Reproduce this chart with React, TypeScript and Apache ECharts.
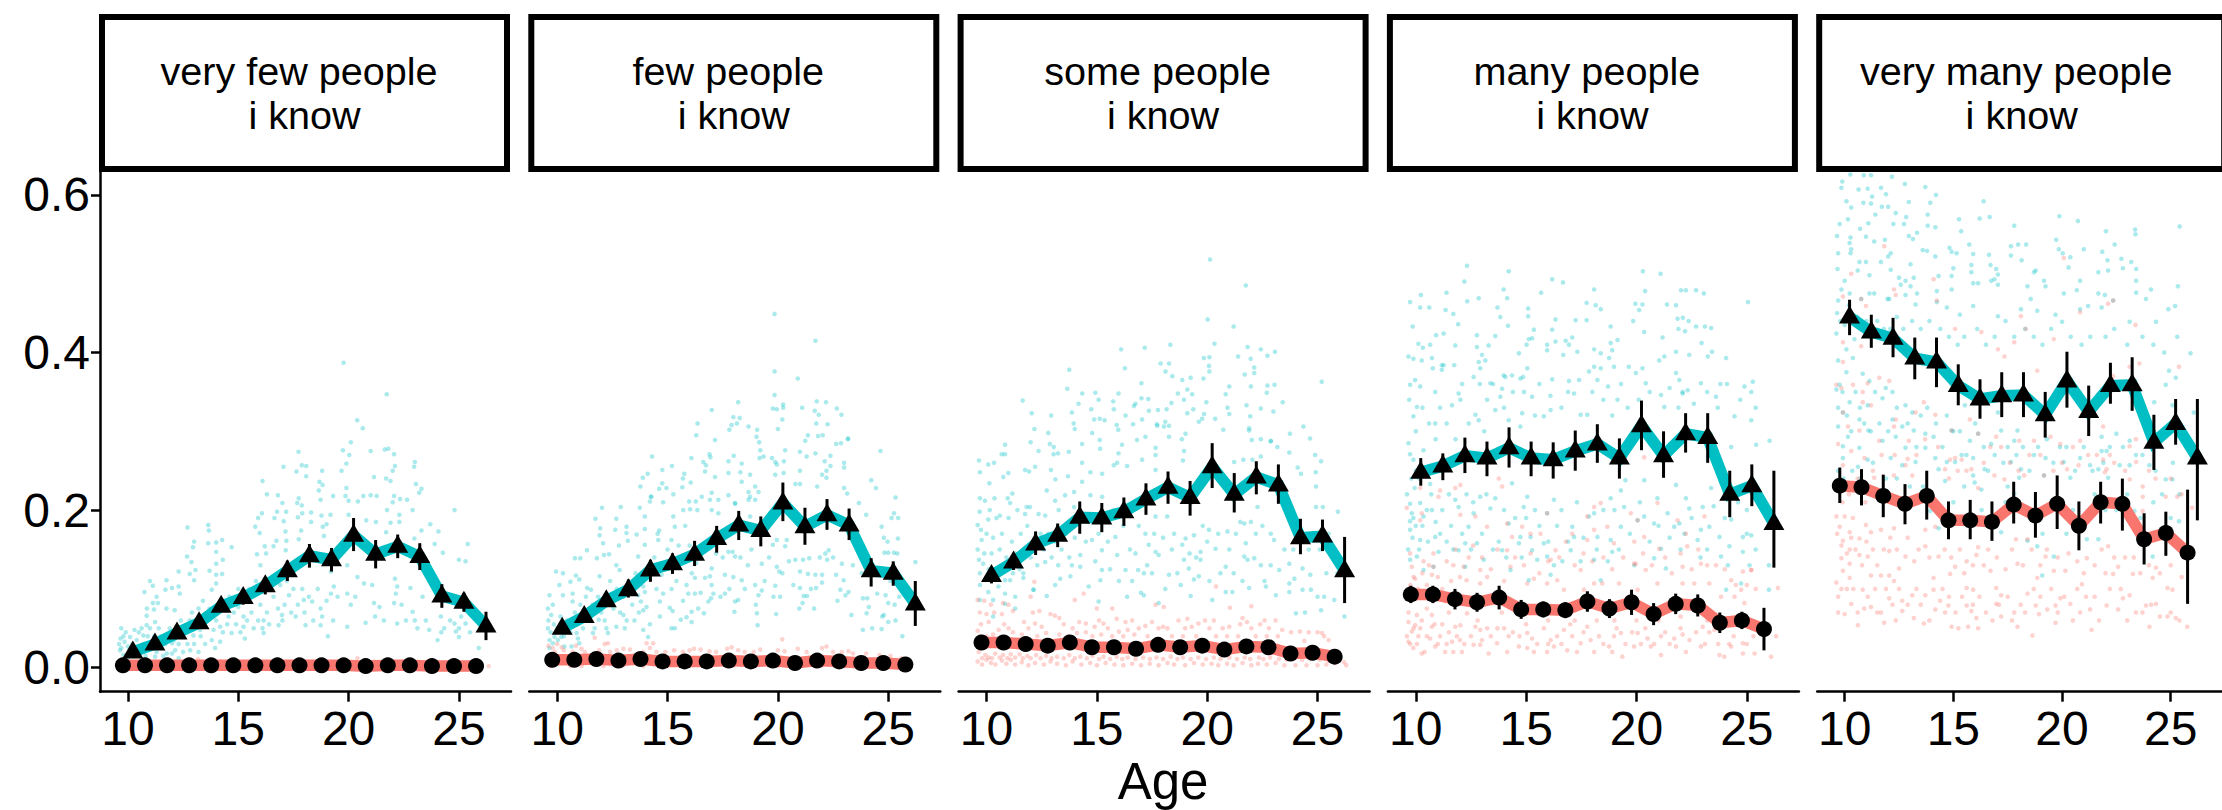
import React, { useEffect, useRef } from "react";
import * as echarts from "echarts";

const ages = [10, 11, 12, 13, 14, 15, 16, 17, 18, 19, 20, 21, 22, 23, 24, 25, 26];
const panelLabels = ["very few people", "few people", "some people", "many people", "very many people"];
const xTicks = [10, 15, 20, 25];
const yTicks = [0, 0.2, 0.4, 0.6];

const tealMean1 = [.020, .030, .044, .057, .078, .089, .104, .123, .142, .137, .168, .144, .154, .141, .091, .083, .053];
const tealHi1 = [.023, .034, .048, .062, .084, .096, .115, .136, .157, .152, .190, .162, .169, .158, .106, .095, .071];
const tealLo1 = [.017, .026, .040, .052, .072, .080, .093, .110, .127, .122, .148, .126, .139, .124, .076, .071, .035];
const salmonMean1 = [.003, .003, .003, .003, .003, .003, .003, .003, .003, .003, .003, .002, .003, .003, .002, .002, .002];
const salmonHi1 = [.004, .004, .004, .004, .004, .004, .004, .004, .004, .004, .004, .003, .004, .004, .003, .003, .003];
const salmonLo1 = [.002, .002, .002, .002, .002, .002, .002, .002, .002, .002, .002, .001, .002, .002, .001, .001, .001];

const tealMean2 = [.050, .065, .085, .099, .124, .132, .144, .164, .181, .174, .209, .179, .194, .181, .123, .120, .081];
const tealHi2 = [.054, .070, .091, .112, .137, .145, .161, .180, .199, .192, .235, .203, .214, .202, .139, .135, .110];
const tealLo2 = [.046, .060, .079, .089, .109, .119, .129, .146, .162, .154, .186, .156, .175, .162, .103, .104, .053];
const salmonMean2 = [.010, .010, .011, .009, .011, .008, .008, .008, .009, .008, .009, .006, .009, .008, .006, .006, .004];
const salmonHi2 = [.012, .012, .013, .011, .013, .010, .010, .010, .011, .010, .011, .008, .011, .010, .008, .008, .006];
const salmonLo2 = [.008, .008, .009, .007, .009, .006, .006, .006, .007, .006, .007, .004, .007, .006, .004, .004, .002];

const tealMean3 = [.117, .134, .157, .168, .191, .190, .198, .214, .229, .216, .255, .220, .242, .232, .165, .167, .123];
const tealHi3 = [.126, .145, .173, .183, .211, .209, .216, .234, .249, .237, .285, .247, .262, .258, .189, .188, .166];
const tealLo3 = [.107, .124, .143, .153, .170, .172, .180, .194, .208, .193, .228, .197, .220, .208, .144, .148, .082];
const salmonMean3 = [.032, .032, .030, .028, .032, .026, .026, .024, .029, .026, .028, .023, .027, .026, .018, .019, .014];
const salmonHi3 = [.036, .036, .034, .032, .036, .030, .030, .028, .033, .030, .032, .027, .031, .030, .022, .023, .018];
const salmonLo3 = [.028, .028, .026, .024, .028, .022, .022, .020, .025, .022, .024, .019, .023, .022, .014, .015, .010];

const tealMean4 = [.248, .256, .269, .266, .279, .266, .264, .275, .284, .266, .307, .269, .297, .292, .220, .231, .183];
const tealHi4 = [.266, .272, .292, .287, .305, .287, .286, .301, .309, .291, .339, .300, .323, .323, .250, .258, .250];
const tealLo4 = [.231, .238, .247, .243, .254, .243, .240, .250, .260, .240, .276, .241, .273, .260, .191, .205, .127];
const salmonMean4 = [.093, .093, .087, .083, .089, .074, .074, .073, .084, .075, .083, .068, .081, .079, .057, .060, .049];
const salmonHi4 = [.104, .104, .100, .095, .104, .086, .084, .083, .097, .087, .099, .082, .094, .093, .070, .071, .076];
const salmonLo4 = [.082, .082, .074, .071, .074, .062, .064, .063, .071, .063, .067, .054, .068, .065, .044, .049, .022];

const tealMean5 = [.445, .426, .418, .393, .388, .358, .341, .345, .346, .321, .364, .325, .358, .359, .286, .310, .266];
const tealHi5 = [.467, .448, .444, .419, .419, .385, .366, .375, .375, .350, .401, .358, .387, .394, .321, .341, .341];
const tealLo5 = [.422, .406, .394, .366, .356, .333, .316, .318, .318, .292, .330, .294, .335, .326, .251, .283, .187];
const salmonMean5 = [.231, .229, .218, .208, .218, .187, .187, .185, .207, .193, .208, .180, .210, .208, .163, .171, .146];
const salmonHi5 = [.254, .252, .245, .233, .250, .211, .213, .211, .236, .223, .244, .211, .236, .240, .196, .198, .226];
const salmonLo5 = [.209, .206, .191, .182, .188, .163, .163, .161, .183, .165, .176, .149, .183, .174, .131, .142, .081];

// individual participants: flat age, value pairs
const tealDots1 = [19.77,.387,21.73,.347,20.39,.314,20.64,.304,20.1,.286,19.74,.276,20.03,.27,21,.275,21.64,.277,21.8,.278,22.06,.271,17.73,.274,17.05,.255,17.88,.257,18.08,.256,18.08,.243,17.64,.249,18.8,.25,19.68,.25,19.9,.259,22.1,.256,22,.25,22.97,.255,23,.261,21.15,.242,21.7,.24,21.9,.237,23.05,.233,23.3,.227,23.2,.222,18.68,.236,18.82,.232,16.1,.237,16.3,.22,16.8,.219,18.65,.225,19.9,.228,19.3,.218,19.86,.218,20.67,.218,21,.219,21.27,.218,22.06,.218,22.33,.214,22.65,.213,17.74,.215,17,.209,17.67,.209,17.88,.206,18.73,.213,20,.212,20.42,.211,22,.21,21.74,.2,22.9,.2,24.8,.2,17.17,.198,18.3,.197,19.18,.194,17.9,.196,20,.194,22.3,.194,16.07,.196,16.76,.198,16.64,.19,17.06,.186,17.7,.191,18.77,.193,20.8,.187,21.24,.185,21.9,.184,23.7,.182,22.3,.185,15.9,.19,18.3,.185,19,.182,18.83,.179,12.7,.178,13.64,.181,13.67,.174,15.77,.179,17.14,.173,17.85,.174,18.88,.167,15.97,.171,21.7,.172,23.3,.174,24.07,.173,13,.16,13.64,.158,14,.159,14.27,.162,14.7,.153,12.95,.153,16.73,.161,17.18,.161,17.74,.163,16.6,.154,16.2,.154,25.4,.157,23.9,.157,22.98,.164,17.15,.149,16.26,.145,14,.147,15.85,.144,24.27,.146,25,.137,25.3,.135,12.68,.141,12.88,.134,14.3,.137,14,.132,16,.13,12.3,.122,12.8,.119,13.06,.124,13.7,.123,14.27,.119,14,.118,11,.11,11.75,.111,11.13,.104,11.7,.099,12,.101,12.3,.103,13,.111,14,.107,10.75,.096,11.3,.09,12.35,.094,13.8,.099,10.86,.075,11.13,.082,11.36,.082,10.85,.066,11.18,.074,11.75,.075,12.12,.073,19.94,.13,19.2,.122,17.3,.092,19.33,.103,20.4,.115,20.7,.107,21.07,.105,22.1,.113,22.2,.103,22.8,.101,23.35,.09,22.06,.082,22.14,.094,19.94,.094,17.97,.086,18.35,.084,18.73,.075,19.2,.094,21.15,.082,21.4,.077,22.9,.071,24.18,.065,25.3,.056,24.8,.056,24.03,.035,25,.039,25.9,.025,24.86,.046,24.33,.05,23.65,.048,23.12,.05,22.2,.056,20.77,.057,19.94,.052,18.73,.054,19.06,.04,18.05,.054,17.6,.065,16.98,.067,16.83,.054,16.15,.06,16.15,.044,15.3,.037,15.24,.052,15.24,.065,14.7,.044,14.18,.052,13.88,.048,13.95,.025,14.18,.033,14.56,.065,15,.077,13.27,.048,12.97,.041,12.82,.022,13.2,.02,12.14,.022,11.76,.018,12.3,.012,11.23,.014,11.53,.027,10.62,.05,10.85,.054,11.23,.058,12,.031,9.7,.05,9.67,.037,9.85,.033,9.64,.022,10.1,.039,10.3,.048,9.8,.016,10,.027,10.7,.041,10.85,.027];
const tealDots1b = [9.6,.03,9.7,.025,9.8,.04,9.9,.045,10,.012,10.1,.02,10.2,.03,10.4,.035,10.5,.045,10.7,.03,10.8,.015,10.9,.04,11,.05,11.1,.03,11.2,.04,11.3,.02,11.4,.05,11.5,.04,11.6,.015,11.7,.03,11.8,.04,11.9,.05,12,.018,12.1,.035,12.2,.045,12.3,.03,12.4,.06,12.5,.02,12.6,.05,12.7,.03,12.8,.06,12.9,.07,13,.03,13.1,.055,13.2,.075,13.3,.04,13.4,.085,13.5,.03,13.6,.06,13.7,.075,13.8,.035,14,.06,14.1,.08,14.3,.045,14.4,.085,14.5,.055,14.6,.09,14.8,.07,14.9,.055,15,.1,15.1,.045,15.3,.085,15.4,.06,15.5,.1,15.6,.07,15.7,.05,15.8,.11,15.9,.06,16,.08,16.1,.05,16.2,.1,16.3,.07,16.4,.055,16.6,.09,16.8,.075,16.9,.105,17,.06,17.1,.08,17.2,.11,17.4,.07,17.5,.1,17.7,.08,17.9,.1,18,.07,18.2,.09,18.4,.06,18.6,.1,18.8,.065,19,.085,19.3,.06,19.5,.09,20.1,.08,20.3,.09,21.2,.065,21.6,.06,22.4,.08,22.6,.06,23,.06,23.5,.06,24.2,.045,24.6,.06,25,.05,25.1,.065,25.5,.045];
const salmonDots1 = [13.18,.011,20.4,.012,21.15,.008,26.35,.002,14.2,.008,11.6,.006,17.5,.006,23,.006];

const tealDots2 = [19.85,.449,21.7,.415,19.85,.376,20.9,.367,19.85,.346,18.2,.337,17,.327,19.77,.329,19.95,.328,20.24,.334,20.24,.33,21.1,.33,21.76,.338,22.18,.337,21.67,.326,21.85,.321,22.67,.329,22.88,.321,17.98,.318,18.27,.317,18.14,.31,17.8,.302,17.9,.308,16.36,.31,16.3,.295,17.15,.289,18.67,.306,19.06,.302,19.03,.293,19.15,.286,20.2,.315,20,.303,21.74,.31,22.25,.309,21.36,.295,21.24,.288,21.82,.294,22.03,.295,22.64,.284,22.86,.285,23.17,.29,23.18,.291,24.65,.275,14.3,.268,16.08,.266,16.9,.271,16.94,.267,18,.269,17.76,.262,18.36,.259,19.2,.276,19.17,.266,19.35,.268,19.73,.266,19.88,.261,19.95,.258,20.33,.276,20.27,.262,21,.274,21.3,.268,21.7,.272,22.38,.269,22.12,.262,23,.26,23,.254,15.2,.256,14.76,.251,14.1,.246,13.88,.241,15.76,.246,15.7,.24,16.62,.261,16.74,.257,16.7,.249,17.15,.242,17.76,.247,18.3,.248,18.74,.245,19.88,.245,20.26,.247,21,.25,22,.245,22.2,.25,22.2,.241,22.38,.256,24.23,.238,24.44,.228,13.77,.23,14.62,.227,14.95,.228,14.76,.234,15.26,.22,14.27,.217,14.2,.211,14.8,.21,16.05,.235,15.67,.229,15.98,.211,16.28,.211,17,.222,17.76,.219,16.92,.213,16.55,.217,17.3,.213,18.36,.236,18.67,.223,18.97,.23,19.12,.223,18.74,.217,18.06,.209,20.79,.233,21,.233,21.78,.23,23,.228,23.14,.221,23.67,.209,25.33,.216,12.03,.203,12.88,.204,13.74,.203,14.24,.217,11.73,.189,11.95,.177,11.92,.168,12.08,.158,12.63,.175,13.14,.179,12.68,.189,13.14,.171,13.2,.161,12.8,.155,12.35,.144,12.12,.143,11.35,.149,11.8,.139,11.05,.139,10.8,.139,13.97,.192,13.97,.176,13.6,.169,14.62,.174,15.26,.192,15.33,.179,15.8,.18,15.18,.162,14.58,.162,13.97,.156,13.67,.141,15.71,.2,16.02,.201,16.35,.2,17,.2,17.3,.196,18.06,.208,18.67,.213,18.97,.213,18.74,.192,24,.194,24.7,.179,25.15,.19,25.45,.19,25.26,.196,25.44,.164,24.8,.165,24.97,.16,19.95,.162,20.4,.162,20.33,.154,19.77,.156,17.76,.147,17.95,.147,18.06,.141,17.6,.118,17.98,.115,18.36,.111,18.64,.13,19.27,.132,18.97,.105,19.27,.098,19.12,.092,18.06,.084,18.2,.086,18.03,.071,19.05,.069,19.88,.104,19.95,.128,20.2,.12,20.06,.122,19.8,.09,19.92,.068,19.08,.054,20.79,.137,21.14,.137,21.42,.139,21,.122,21.36,.119,21.7,.118,22.23,.137,22.15,.145,22.3,.149,22,.118,22,.108,21,.101,21.17,.091,21.32,.091,21.12,.082,20.97,.075,21.64,.075,21.73,.101,22.9,.132,23.4,.13,22.64,.118,22.98,.111,23.2,.096,23.06,.092,22.83,.099,23.33,.067,24.83,.146,25,.146,25.26,.146,25.41,.145,24.05,.088,23.85,.088,24.12,.077,24.02,.069,24.5,.094,24.88,.092,25,.082,25.29,.08,24.73,.065,25,.058,24.8,.067,25.33,.06,23.85,.048,24.27,.05,24.7,.049,25.64,.04,26.23,.134,14.73,.13,15,.135,14.73,.118,15.18,.1,14.8,.094,14.65,.084,15.1,.076,15.23,.072,14.65,.065,15.33,.05,15.18,.05,15.6,.061,16.09,.058,15.86,.064,16.09,.071,16.39,.075,16.24,.094,15.94,.094,15.86,.105,16.24,.114,16.3,.133,16.92,.116,17,.126,16.7,.114,16.85,.084,17.08,.094,16.97,.088,16.65,.069,17.6,.094,13.9,.103,13.97,.096,13.67,.092,13.9,.073,13.5,.06,13,.067,12.68,.052,13.06,.05,14.2,.055,13.9,.048,14.12,.039,13.79,.084,14.05,.077,12.68,.13,12.83,.124,11.92,.116,11.53,.099,11,.112,10.85,.117,10.6,.109,10.7,.094,10.26,.12,9.95,.122,10.1,.105,9.65,.092,9.8,.08,9.58,.075,10.26,.092,9.73,.067,9.58,.05,10.7,.084,11.36,.101,11.77,.073,11.88,.061,12.23,.05,11.62,.044,12.3,.044,10.95,.061,10.88,.044,10.65,.054,11.17,.05,9.65,.035,9.8,.031,10.03,.035,10.33,.027,10.18,.039,9.65,.025,10.94,.037,11,.031,10.65,.027,9.88,.039];
const tealDots2b = [9.6,.06,9.7,.045,9.85,.055,10,.05,10.15,.065,10.3,.04,10.45,.06,10.6,.045,10.8,.07,10.9,.055,11.05,.08,11.2,.065,11.3,.09,11.45,.06,11.6,.08,11.7,.05,11.85,.09,12,.07,12.15,.06,12.3,.085,12.4,.11,12.55,.075,12.7,.1,12.85,.07,13,.09,13.15,.06,13.3,.1,13.4,.08,13.55,.12,13.7,.07,14.4,.14,14.5,.1,14.55,.17,15,.15,15.4,.11,15.5,.155,15.7,.085,16,.155,16.1,.12,16.5,.095,16.6,.155,17,.105,17.2,.145,17.4,.09,17.5,.14,17.8,.1,18.3,.14,18.5,.1,18.8,.15,19,.08,19.4,.11,19.6,.14,20.1,.09,20.5,.135,20.7,.105,21.5,.1,21.9,.14,22.5,.14,22.7,.085,23.6,.15,23.8,.12,24.3,.13,24.6,.12,25.1,.11,25.5,.09];
const salmonDots2 = [20.2,.036,12.3,.031,12.15,.03,11.7,.038,14.05,.031,14.35,.031,9.6,.028,9.8,.025,10,.03,10.2,.026,9.9,.02,10.3,.022,10.85,.028,11.1,.024,11.25,.02,10.7,.02,11.9,.022,12.4,.02,12.7,.022,13,.024,13.3,.023,13.9,.02,14.2,.025,14.5,.02,14.9,.02,15.3,.022,15.7,.02,16,.022,16.2,.024,16.5,.023,16.9,.021,17.2,.02,17.7,.024,17.9,.026,18.2,.022,18.5,.02,18.9,.02,19.2,.023,20,.022,20.3,.021,20.9,.024,21.3,.02,22,.025,22.2,.027,22.5,.02,22.9,.02,23.2,.021,23.4,.018,24,.018,24.6,.016,25.1,.015,25.6,.012,9.7,.002,10.6,.002,11.1,.002,12.1,.002,13,.003,13.9,.002,15,.003,16,.003,17,.003,18,.003,19,.003,20,.002,21,.003,22,.003,23,.002,24,.002,25,.002,25.6,.002];

const tealDots3 = [20.13,.518,21.75,.485,20.02,.442,21.2,.433,20.33,.411,16.1,.404,17.17,.406,18.33,.41,21.83,.407,22.43,.404,22.73,.396,23.07,.401,19.85,.393,20.1,.394,21.4,.395,21.97,.392,17.89,.386,18.27,.386,16.27,.38,13.75,.378,20.08,.383,20.1,.376,18.11,.376,18.42,.37,17.02,.361,18.87,.365,19.25,.368,19.83,.367,21.7,.372,22.13,.381,22.13,.374,21.98,.357,21,.357,23.05,.359,22.73,.358,22.7,.349,25.19,.363,13.66,.354,14.34,.348,14.93,.349,15.98,.348,18.67,.348,19.1,.353,19.32,.347,20.84,.347,11.64,.339,14.17,.335,15.08,.34,15.74,.338,16.75,.335,17.02,.342,17.33,.341,18.38,.336,18.95,.34,19.96,.337,21.78,.333,22.43,.329,23.42,.337,12.05,.323,12.93,.32,13.87,.324,14.75,.328,15.77,.328,16.3,.32,16.68,.332,17.36,.326,17.77,.327,18.16,.328,19.1,.323,19.37,.328,19.86,.322,20.36,.316,20.92,.33,21,.322,21.95,.319,23,.325,12.17,.303,13.95,.31,14,.303,12.8,.298,14.88,.315,15.13,.316,15.35,.314,15.9,.308,15.97,.302,16.64,.309,17.05,.315,17.72,.309,18.1,.312,17.74,.307,18.04,.306,18.27,.307,19.62,.312,19.77,.316,20.73,.302,21.9,.304,21.9,.301,22.02,.289,22.43,.29,22.88,.288,23.75,.297,24.36,.306,24.66,.291,12,.286,12.87,.284,13.05,.28,10.84,.283,10.69,.271,10.84,.271,12.36,.275,13.04,.271,13.24,.272,13.73,.274,14.33,.284,14.79,.298,15.13,.289,15.15,.278,16.14,.283,15.98,.272,16.82,.289,17.2,.293,17.66,.279,18.27,.293,19.02,.297,18.85,.29,18.95,.275,18.9,.263,9.66,.263,10.34,.26,10.08,.258,9.7,.248,10.99,.247,10.76,.242,10.13,.234,11.75,.251,11.93,.249,12.2,.255,12.92,.251,13.12,.239,13.69,.243,14.33,.26,14.71,.248,15.24,.246,15.77,.257,15.92,.26,16.37,.256,17.05,.264,17.66,.27,17.66,.251,21.64,.264,21.22,.261,22.05,.264,22.43,.268,22.88,.287,23.18,.28,24.89,.27,25.16,.262,24.92,.248,24.1,.254,24.25,.246,23.72,.273,9.7,.215,9.93,.212,10.36,.215,9.69,.198,10.08,.188,9.6,.181,9.78,.162,10.61,.193,10.96,.215,11.17,.221,11.07,.209,11.82,.204,11.97,.204,11.75,.195,12.36,.195,12.66,.193,13.11,.212,12.73,.225,13.27,.2,13.56,.219,13.97,.223,13.97,.204,14.2,.187,14.71,.219,15.24,.217,14.33,.236,15.08,.17,14.78,.162,15.23,.149,14.93,.135,14.25,.143,14.25,.128,13.87,.13,13.8,.116,13.34,.113,13.11,.105,12.73,.091,12.13,.099,15.84,.166,15.92,.143,16.3,.124,15.23,.124,15.16,.111,14.63,.103,16.37,.09,15.08,.084,17.2,.17,17.35,.156,17.8,.143,17.66,.147,16.75,.145,17.13,.12,17.28,.13,16.87,.124,17.13,.092,17.8,.082,18.19,.192,17.66,.192,19.02,.164,19.4,.168,18.87,.156,18.95,.137,19.17,.126,18.27,.118,18.65,.12,19.4,.112,19.62,.116,19.25,.091,20.08,.175,20.38,.151,20,.16,19.7,.147,20.84,.128,19.7,.137,20.23,.086,20.84,.096,21.14,.096,20.92,.173,21.3,.17,21.68,.183,21.98,.185,22.28,.204,21.75,.158,21.83,.137,22.13,.139,22.43,.13,21.68,.141,21.9,.101,22.66,.103,23.11,.092,23.72,.096,22.88,.17,23.03,.162,22.88,.13,23.26,.124,23.72,.132,24.02,.069,24.32,.126,24.67,.118,23.95,.113,23.72,.107,24.32,.099,24.7,.099,25,.09,25.3,.09,25.16,.073,25.76,.086,24.43,.07,26.22,.065,25.92,.198,25.24,.204,24.93,.23,24.93,.204,9.7,.12,10.3,.12,10.84,.111,11.2,.12,11.67,.114,12.13,.099,10.84,.094,10.08,.096,9.7,.105,10.3,.086,10.84,.081,11.3,.09,11.3,.075,10.3,.065,9.7,.086,9.66,.137,10.23,.145,9.85,.132,10.1,.125,10.77,.125,11.07,.111,10.54,.103,11.5,.125,11.67,.12,12.66,.134];
const tealDots3b = [9.6,.15,9.75,.175,9.9,.145,10,.17,10.15,.2,10.3,.165,10.45,.19,10.6,.15,10.7,.17,10.9,.14,11,.19,11.15,.16,11.3,.145,11.4,.2,11.55,.17,11.7,.15,11.85,.18,12,.14,12.15,.16,12.3,.13,12.45,.17,12.6,.15,12.8,.17,12.95,.14,13.1,.16,13.25,.13,13.4,.15,13.6,.17,13.75,.14,14,.165,14.5,.16,14.6,.19,15.4,.19,15.5,.16,15.6,.125,15.75,.2,16,.11,16.2,.18,16.5,.15,16.6,.11,16.9,.18,17,.095,17.5,.12,17.6,.17,18,.165,18.1,.1,18.4,.15,18.5,.17,18.8,.105,19.2,.145,19.5,.14,19.8,.18,20.1,.11,20.5,.17,20.6,.12,21,.15,21.2,.12,21.5,.185,21.6,.11,22.2,.17,22.5,.18,22.6,.11,23.5,.15,23.9,.15,24.2,.16,24.6,.15,25.1,.15,25.4,.12,25.5,.17,25.9,.12];
const salmonDots3 = [20.4,.103,12.17,.109,14,.086,14.4,.094,18.03,.077,17.66,.08,22,.078,21.03,.076,15.7,.075,15,.075,9.6,.086,9.9,.085,10.2,.08,9.7,.07,10,.068,10.35,.07,10.75,.082,11,.08,10.7,.068,11.2,.072,9.75,.055,10.1,.058,10.8,.055,11,.05,10.55,.048,9.6,.047,12,.09,12.1,.07,12.4,.072,11.7,.058,11.9,.05,12.2,.056,12.5,.052,12.9,.068,13.1,.066,13.3,.063,13.5,.055,13.9,.05,14.2,.058,14.5,.056,14.5,.045,14.9,.052,15.1,.06,15.3,.056,15.5,.05,15.9,.062,16.3,.058,16.6,.06,16,.046,16.4,.048,16.9,.05,17.2,.053,17.5,.058,17.8,.05,18,.052,18.2,.05,18.7,.06,19.1,.062,19.3,.052,19,.05,19.6,.056,19.9,.06,20.3,.06,20.1,.05,20.7,.05,21,.052,21.5,.055,21.6,.063,21.8,.058,22,.05,22.4,.055,22.6,.06,22.8,.05,23.1,.06,23.4,.048,23.8,.045,24.2,.046,24.6,.045,25,.045,25.2,.044,25.3,.04,25.5,.035,26.2,.007,26.3,.003,9.6,.008,9.8,.004,10,.01,10.2,.006,10.4,.004,10.7,.009,10.9,.005,11.1,.01,11.3,.004,11.6,.007,11.9,.003,12.2,.006,12.6,.004,12.9,.008,13.2,.005,13.6,.003,13.9,.008,14.3,.004,14.7,.006,15,.003,15.4,.006,15.8,.004,16.2,.003,16.6,.005,17,.003,17.4,.005,17.8,.003,18.2,.006,18.5,.004,19,.003,19.4,.006,19.8,.004,20.2,.005,20.5,.003,20.9,.005,21.2,.003,21.6,.006,22,.003,22.3,.005,22.7,.004,23.1,.006,23.5,.003,24,.003,24.5,.003,25,.003,25.4,.004];
const salmonDots3b = [9.65,.02,9.8,.012,9.95,.016,10.1,.013,10.25,.012,10.4,.018,10.6,.013,10.75,.016,10.95,.012,11.1,.017,11.3,.013,11.5,.017,11.65,.012,11.85,.015,12,.012,12.25,.016,12.45,.012,12.7,.015,12.95,.012,13.2,.014,13.5,.012,13.75,.016,14,.012,14.25,.014,14.55,.012,14.8,.015,15.1,.011,15.3,.014,15.6,.011,15.9,.014,16.15,.011,16.4,.013,16.75,.011,17.1,.013,17.4,.011,17.7,.013,18,.011,18.35,.014,18.65,.011,18.9,.013,19.25,.011,19.6,.013,19.95,.011,20.3,.013,20.6,.011,21,.013,21.35,.011,21.7,.013,21.95,.011,22.35,.013,22.55,.011,22.85,.013,23.25,.011,23.6,.01,23.9,.011,24.3,.01,24.7,.011,25.1,.01,25.5,.009,25.8,.006,10,.04,10.3,.042,9.7,.04,11.2,.045,11.6,.042,12.3,.04,12.7,.044,13.3,.042,13.7,.04,14.1,.044,14.8,.04,15.2,.042,15.7,.04,16.2,.04,16.7,.042,17.3,.04,18.4,.04,18.9,.04,19.5,.04,20.4,.04,20.9,.04,21.4,.04,22.2,.04,22.7,.04,23.2,.04,24.4,.034];

const tealDots4 = [12.32,.51,14.21,.503,12.2,.49,16.18,.493,16.67,.489,20.29,.503,21.09,.5,10.23,.473,9.74,.464,10.2,.457,10.61,.457,11.39,.476,12.33,.465,12.85,.469,13.98,.48,14.14,.469,13.7,.457,15.68,.476,15.09,.456,18.08,.48,17.74,.463,18.15,.46,18.38,.455,20.39,.478,19.95,.462,20.27,.461,20.12,.454,21.38,.461,21.79,.46,22.02,.479,22.24,.479,22.7,.479,23.05,.475,25.05,.464,11.35,.454,11.7,.449,9.86,.433,11.92,.436,13.83,.445,15.09,.446,14.18,.434,16.33,.442,17.24,.441,17.74,.441,18.83,.433,19.85,.44,21.86,.443,22.1,.444,22.36,.44,22.7,.433,23.1,.433,23.38,.431,21.9,.43,22.2,.427,20.35,.426,21.18,.419,22.95,.412,23.42,.401,10.92,.422,11.26,.424,12.77,.422,13.6,.421,15.35,.429,15.12,.417,15.27,.418,16.18,.429,16.79,.415,16.94,.41,17.09,.419,16.33,.414,15.95,.41,19.14,.416,18.83,.412,18.9,.403,18.08,.404,18.38,.399,10.12,.411,10.32,.406,10.65,.41,11.79,.409,12.77,.407,13.3,.409,15.02,.41,14.67,.399,13.98,.371,15.95,.403,16.68,.397,17.32,.401,21.79,.401,21.03,.39,21.26,.395,22.39,.397,23.23,.395,24.06,.393,9.67,.395,9.89,.392,10.27,.39,10.73,.393,11.18,.384,11.74,.384,12.85,.388,13,.397,13.15,.39,12.92,.38,15.05,.38,14.06,.369,14.36,.371,14.86,.369,14.74,.367,17.85,.376,18.08,.382,18.38,.38,18.76,.393,18.98,.382,19.65,.382,16.18,.366,16.94,.364,18.23,.365,18.71,.357,19.97,.374,20.27,.38,20.42,.361,21.79,.374,21.94,.365,22.09,.348,22.32,.352,22.92,.361,24.89,.357,25.27,.363,9.97,.365,9.74,.359,10.2,.357,10.77,.38,11.26,.384,11.18,.378,10.88,.35,11.94,.348,12.62,.369,13.38,.361,13.23,.34,13.91,.354,15.27,.344,10.05,.331,9.89,.319,10.88,.31,11.64,.333,12.02,.34,12.7,.321,12.85,.314,13.6,.327,13.83,.344,14.82,.323,14.74,.306,14.21,.314,15.8,.319,16.11,.327,17.17,.348,17.47,.321,17.77,.321,23.68,.33,24.44,.319,25.2,.35,23.6,.344,19.14,.34,21.11,.346,21.26,.331,22.09,.35,25.2,.314,26.03,.288,24.29,.28,25.42,.283,9.67,.285,9.74,.271,10.35,.276,9.89,.264,10.88,.255,10.35,.249,10.65,.233,9.95,.228,9.74,.208,10.2,.209,9.82,.196,9.89,.19,10.35,.192,10.73,.2,9.74,.186,9.74,.175,10.2,.162,10.88,.166,11.03,.147,10.8,.128,10.35,.124,10.05,.141,9.74,.137,11.79,.213,11.94,.204,12.62,.196,12.39,.179,12.92,.217,13.38,.202,12.24,.158,12.77,.158,11.94,.149,12.24,.128,13.08,.137,14.21,.183,13.76,.16,13.91,.149,15.05,.217,14.89,.204,14.36,.234,16.26,.213,15.95,.196,14.74,.166,15.2,.166,15.8,.158,15.5,.137,14.67,.158,15.95,.141,16.11,.118,14.29,.124,15.27,.149,15.12,.111,17.09,.179,17.85,.192,18.08,.196,17.17,.166,17.02,.149,16.64,.135,17.47,.135,18.08,.137,16.26,.13,18.83,.162,18.9,.147,19,.2,18.23,.166,19.29,.179,18.38,.111,19.5,.238,18.83,.215,19.29,.225,19.44,.204,20.35,.238,20.35,.192,20.05,.187,20.8,.183,20.8,.139,21.11,.151,21.33,.126,20.95,.215,21.41,.196,21.79,.232,22.24,.215,22.39,.202,21.94,.183,21.71,.179,22.17,.17,22.77,.162,23,.204,23.3,.179,22.92,.175,23.38,.228,23.76,.166,23.83,.141,24.21,.154,24.29,.188,24.14,.13,24.82,.147,25,.17,25.2,.168,25.12,.13,24.06,.099,26,.13,26,.099,24.74,.107,24.82,.166];
const tealDots4b = [9.6,.22,9.8,.24,10,.25,10.15,.24,9.65,.15,9.85,.165,10,.18,10.15,.15,10.3,.18,10.5,.2,10.55,.16,10.7,.22,10.9,.185,11.1,.17,11.2,.2,11.4,.16,11.5,.22,11.6,.18,11.7,.15,12.1,.17,12.3,.22,12.5,.15,12.6,.21,13,.17,13.2,.22,13.5,.15,13.6,.215,14,.2,14.1,.14,14.5,.19,14.8,.14,15,.19,15.4,.2,15.6,.18,16,.16,16.4,.18,16.6,.2,16.9,.16,17.3,.21,17.6,.165,18.2,.15,18.5,.2,18.7,.135,19.2,.15,19.7,.17,19.9,.13,20.15,.21,20.6,.16,21,.18,21.5,.165,22,.15,22.5,.19,22.9,.14,23.2,.15,23.5,.205,24,.19,24.6,.21,25,.2,25.4,.15,9.7,.34,10,.3,10.3,.33,10.6,.31,10.9,.29,11.1,.33,11.4,.31,11.8,.29,12.1,.36,12.4,.31,12.9,.36,13.1,.3,13.5,.36,14,.33,14.4,.35,14.9,.35,15.4,.32,15.6,.36,16.1,.345,16.6,.33,16.9,.35,17.4,.365,18,.35,18.5,.34,18.9,.32,19.3,.36,19.6,.33,20.1,.34,20.6,.35,21.5,.355,21.9,.33,22.6,.335,23.2,.35,23.8,.36,24.1,.36,24.7,.34,25.4,.33];
const salmonDots4 = [20.35,.267,12.02,.232,11.79,.228,11.1,.225,10.2,.228,11.03,.217,13.76,.24,13.91,.23,9.59,.203,10.27,.196,10.2,.187,12.02,.194,12.7,.192,13.23,.179,14.14,.183,14.82,.179,14.36,.166,15.2,.17,14.14,.149,15.95,.196,15.65,.17,16.11,.137,16.33,.149,18.38,.209,18.08,.204,17.77,.192,17.09,.17,17.77,.162,18.08,.175,18.68,.179,18.98,.158,19.74,.196,20.05,.187,20.95,.209,20.35,.166,21.03,.151,19.97,.132,21.86,.187,22.24,.17,22.3,.154,23.08,.192,22.09,.128,22.92,.132,25.2,.124,24.82,.122,24.29,.111,24.74,.099,26.41,.101,9.74,.145,9.82,.128,10.35,.135,10.8,.128,9.97,.113,10.73,.118,11.7,.13,12.17,.128,12.92,.124,12.3,.111,13.23,.115,12.92,.107,14.29,.128,15.05,.107,15.35,.113,15.95,.107,16.41,.111,16.71,.099,17.47,.124,18.08,.107,18.45,.107,17.62,.099,19.21,.107,19.89,.132,20.42,.124,20.95,.107,20.05,.099,22.09,.107,22.62,.107,23.3,.107,23.83,.09,24.44,.09,25.2,.124,24.89,.082,9.67,.07,10.05,.067,9.67,.058,9.97,.054,10.27,.06,9.82,.046,10.12,.04,9.67,.033,9.89,.025,10.27,.018,10.73,.067,10.73,.052,10.65,.037,11.1,.04,10.88,.027,11.33,.02,11.79,.052,12.02,.054,11.86,.04,11.64,.033,12.09,.02,12.32,.069,12.7,.052,12.92,.048,13.23,.05,12.62,.029,12.92,.029,13.3,.018,13.68,.031,14.21,.04,14.14,.02,14.67,.027,15.05,.025,15.05,.044,15.27,.037,15.35,.02,15.95,.02,16.26,.027,16.11,.035,16.71,.048,17.09,.04,16.86,.022,17.47,.031,17.92,.035,18.08,.02,17.77,.052,18.76,.027,18.98,.04,19.29,.044,19.36,.014,20.05,.044,19.89,.027,20.5,.037,20.65,.027,21.11,.016,21.11,.04,21.71,.037,22.09,.042,21.79,.027,22.24,.02,22.92,.027,23,.052,23.53,.048,23.76,.016,23.98,.014,24.29,.027,24.82,.031,24.82,.018,25.35,.018,26.1,.014,26.33,.04];
const salmonDots4b = [9.6,.09,9.75,.105,9.9,.115,10.1,.1,10.3,.12,10.5,.105,10.6,.13,10.8,.145,11,.115,11.2,.1,11.4,.135,11.6,.11,11.8,.15,12,.115,12.4,.14,12.6,.155,13,.14,13.4,.125,13.7,.15,14,.11,14.5,.14,14.9,.13,15.2,.145,15.6,.12,16,.135,16.5,.14,16.8,.16,17.2,.13,17.6,.145,18,.135,18.5,.14,18.9,.125,19.4,.14,19.9,.16,20.3,.145,20.7,.13,21.3,.14,21.6,.12,22,.145,22.5,.125,22.8,.15,23.2,.13,23.6,.13,24,.125,24.5,.105,25,.105,25.4,.1,9.6,.04,9.75,.03,9.9,.05,10.05,.03,10.2,.05,10.4,.02,10.5,.04,10.85,.055,11,.03,11.2,.055,11.4,.03,11.5,.045,11.7,.02,12,.035,12.2,.03,12.5,.04,12.8,.06,13,.035,13.4,.04,13.7,.05,14,.05,14.4,.045,14.7,.04,15,.055,15.5,.03,15.8,.05,16,.03,16.4,.04,16.6,.03,17,.055,17.3,.02,17.6,.045,18.3,.04,18.5,.03,18.9,.02,19.1,.05,19.5,.03,19.8,.045,20.2,.03,20.4,.05,20.8,.03,21.3,.045,21.5,.03,22,.05,22.4,.035,22.7,.045,23.1,.03,23.3,.045,23.7,.03,24.4,.04,25,.03,25.3,.04,10.5,.075,11.5,.07,12.8,.075,13.9,.07,15,.07,16,.06,17.2,.06,18.2,.06,19,.06,20,.06,21,.06,22,.065,23.2,.06,24.2,.03];

const tealDots5 = [10.26,.626,10.88,.625,11.21,.625,12.17,.623,9.89,.617,12.77,.614,13.71,.61,9.85,.609,10.64,.607,11.06,.608,11.67,.609,14.2,.6,11.9,.601,11.26,.598,12.95,.591,13.94,.59,16.39,.592,10.08,.592,10.86,.59,11.21,.589,11.71,.585,12,.585,10.3,.584,11.41,.575,12.35,.577,13.82,.575,12.83,.572,16.67,.572,16.21,.57,19.88,.573,20.73,.567,9.77,.563,10.15,.569,11.09,.564,12.24,.563,12.73,.563,13.82,.561,14.17,.559,15.26,.569,15.36,.554,17.8,.561,25.41,.56,22.02,.554,23.36,.556,23.38,.55,9.65,.548,10.27,.546,10.71,.557,10.98,.547,11.85,.543,12.95,.548,13.33,.552,13.14,.544,10.23,.539,11.36,.541,13.79,.529,13.59,.53,14.82,.533,14.92,.528,15.15,.526,15.73,.537,17.65,.535,17.98,.537,18.35,.537,19.73,.543,22.42,.537,9.7,.526,12.12,.526,12,.522,14.17,.522,15.91,.525,16.64,.524,17.65,.523,18.14,.517,19.85,.531,20.03,.526,20.38,.521,21,.531,21.85,.528,22.09,.517,22.73,.519,23.18,.515,10.3,.531,10.27,.526,10.68,.515,10.98,.515,11.67,.515,13.03,.512,15.83,.511,16.71,.511,16.97,.506,17.05,.499,15.83,.502,18.79,.504,20.3,.508,21.67,.502,22.12,.504,22.8,.507,23.41,.506,9.67,.506,10,.491,10.6,.504,11.14,.498,12.12,.505,12.5,.495,12.8,.491,13.18,.495,14.32,.497,15,.507,14.92,.497,16.14,.488,15.91,.488,16.89,.493,17.05,.486,16.74,.491,18.71,.502,19.17,.491,20.83,.491,23.41,.491,9.85,.48,10.23,.475,11.36,.475,12.05,.468,13.03,.484,12.58,.486,13.33,.475,14.24,.478,14.92,.48,18.41,.484,18.56,.468,19.24,.484,20.08,.475,20.68,.479,25.33,.484,24.09,.48,23.86,.468,23.41,.476,21.67,.475,21.97,.473,22.35,.466,9.7,.466,11.14,.475,10.76,.468,11.97,.468,12.8,.473,13.26,.461,14.24,.464,14.7,.457,15.3,.448,15.91,.459,17.05,.446,18.11,.455,18.86,.453,19.7,.448,20,.439,20.83,.455,21.2,.459,21.82,.457,23.11,.439,24.89,.455,25.2,.459,24.32,.439,9.62,.424,10.08,.404,10.45,.417,9.7,.39,10.38,.393,10.08,.375,9.77,.359,10.23,.337,9.62,.353,10.83,.373,11.14,.364,11.06,.333,9.92,.324,9.7,.306,10.68,.315,10.15,.293,11.09,.301,9.92,.281,10.68,.279,9.92,.266,11.06,.264,10.61,.255,11.74,.342,11.89,.355,12.2,.315,11.74,.288,12.35,.293,12.65,.306,12.8,.333,13.18,.301,12.8,.279,12.65,.257,12.12,.266,13.26,.261,13.11,.324,13.71,.297,13.71,.279,14.17,.266,14.09,.293,14.62,.237,14.7,.261,14.32,.252,14.32,.177,13.94,.199,14.92,.301,15.53,.333,15.38,.27,15.91,.266,15.76,.288,15.98,.235,15.08,.261,16.44,.252,16.74,.284,17.2,.301,17.05,.324,16.97,.342,16.14,.297,16.29,.226,15.91,.244,17.95,.301,17.8,.288,18.11,.252,17.65,.261,18.03,.241,17.5,.23,17.8,.221,17.2,.172,18.71,.27,19.24,.266,19.17,.244,18.86,.154,18.41,.161,19.09,.117,19.62,.141,20.08,.261,20.38,.241,20.83,.266,21.29,.257,21.14,.163,21.67,.163,21.82,.293,21.82,.275,21.67,.252,22.05,.275,22.12,.241,22.5,.297,22.65,.257,23.11,.288,23.11,.257,23.33,.199,24.02,.257,24.77,.239,25.08,.239,25.38,.186,24.17,.141,25.45,.15,25.08,.333,24.77,.359,25.23,.368,24.24,.337,24.92,.377,25.91,.399,26.06,.324];
const tealDots5b = [9.65,.45,9.8,.44,10,.435,10.2,.46,10.4,.44,10.6,.445,10.8,.43,11,.44,11.2,.42,11.5,.44,11.8,.43,12.1,.43,12.4,.445,12.7,.43,13.1,.44,13.5,.43,13.9,.44,14.4,.43,14.8,.42,15.2,.41,15.5,.42,16.1,.43,16.5,.41,16.9,.42,17.4,.44,17.8,.42,18.3,.43,18.7,.42,19.1,.41,19.5,.43,20.4,.42,20.9,.41,21.3,.42,22,.42,22.4,.43,23,.41,23.7,.42,24.2,.41,24.7,.4,25.3,.42,9.7,.33,9.9,.35,10.1,.32,10.3,.3,10.5,.35,10.7,.33,10.9,.31,11.2,.3,11.4,.35,11.6,.31,12,.3,12.2,.35,12.4,.33,12.9,.31,13.3,.28,13.5,.32,13.8,.33,14.2,.31,14.5,.28,14.7,.32,15,.3,15.3,.3,15.6,.27,16,.31,16.4,.28,16.6,.25,16.9,.27,17.3,.26,17.5,.28,17.9,.27,18.2,.28,18.5,.25,18.9,.28,19.3,.29,19.6,.26,19.9,.28,20.2,.28,20.6,.25,21,.28,21.4,.25,21.9,.26,22.2,.28,22.8,.28,23.4,.27,23.7,.27,24.3,.25,24.6,.22,25,.19,25.1,.26,25.4,.22,9.7,.25,9.95,.24,10.35,.25,10.7,.24,11.3,.26,11.9,.24,12.4,.24,13,.23,13.6,.23,14,.22,14.4,.2,15,.21,15.5,.23,16.3,.2,16.7,.18,17.4,.21,18,.2,18.6,.19,19.1,.17,19.5,.21,20.2,.17,20.5,.2,21,.19,21.5,.22,22,.2,22.5,.2,23,.22,23.6,.19,24.2,.21,24.8,.16];
const salmonDots5 = [11.82,.535,10.3,.5,12.27,.48,9.92,.471,10.76,.468,10.98,.459,12.35,.473,14.24,.466,14.09,.493,15.08,.43,9.92,.413,10.76,.408,9.92,.388,9.62,.359,9.85,.355,10.38,.359,10.83,.35,11.06,.361,11.59,.368,12.05,.364,20.08,.52,18.11,.446,18.33,.43,17.8,.413,16.29,.426,17.05,.404,17.35,.395,18.86,.377,19.62,.417,20.83,.451,22.12,.462,22.35,.466,23.38,.435,25.38,.382,23.11,.382,23.56,.386,22.35,.37,22.65,.355,9.92,.324,10.15,.306,10.83,.337,10.68,.301,11.21,.333,11.59,.288,12.35,.315,12.95,.288,12.27,.306,13.26,.324,13.64,.337,14.17,.321,14.92,.301,15.08,.266,15.76,.315,16.14,.297,16.97,.293,18.03,.288,18.71,.288,19.47,.293,19.92,.284,20.83,.288,21.89,.306,22.2,.27,22.05,.252,23.11,.281,23.41,.261,23.71,.23,25.3,.217,25.98,.203,9.92,.257,9.7,.284,10.3,.275,10.91,.266,11.36,.241,12.27,.244,12.8,.257,13.11,.244,14.62,.252,14.85,.264,15.38,.264,15.83,.252,16.14,.228,16.89,.244,17.35,.239,18.26,.244,19.17,.244,20.23,.252,20.76,.257,21.89,.264,21.97,.248,23.11,.239,23.71,.217,24.77,.217,23.71,.199,9.62,.192,10,.192,10.38,.19,9.77,.179,10.23,.172,9.92,.161,10.23,.15,9.85,.139,10.23,.132,9.92,.123,10.23,.114,9.62,.108,9.7,.09,10,.068,10.3,.081,10.61,.054,10.68,.164,10.98,.181,11.21,.172,11.06,.141,10.68,.143,11.21,.117,11.06,.09,11.21,.077,10.83,.099,11.67,.175,12.27,.177,12.05,.148,12.8,.141,12.5,.126,11.67,.117,12.05,.117,12.27,.11,12.05,.088,12.65,.085,11.67,.07,12.65,.072,12.35,.06,11.82,.057,13.11,.092,13.18,.063,13.64,.056,13.71,.175,14.17,.179,14.32,.141,13.71,.154,14.09,.114,14.09,.099,13.71,.092,14.39,.085,14.17,.074,14.77,.079,14.92,.052,15.23,.05,14.62,.07,15.68,.052,16.14,.05,15.08,.128,14.85,.119,15.61,.135,16.14,.153,16.06,.143,15.61,.101,15.91,.099,15.61,.079,15.83,.072,16.06,.063,16.97,.101,17.2,.092,16.71,.123,16.97,.081,17.2,.065,17.95,.052,17.8,.07,17.95,.132,17.88,.163,18.41,.163,18.41,.094,18.86,.114,19.24,.141,19.62,.123,20.15,.123,18.79,.079,19.32,.074,19.7,.079,18.94,.068,19.92,.088,20.38,.081,19.7,.057,18.64,.041,20.91,.106,21.14,.139,20.83,.07,21.36,.048,21.29,.074,21.82,.15,22.12,.154,22.58,.128,22.35,.119,22.05,.079,22.8,.088,22.58,.074,23.11,.092,23.26,.119,23.86,.079,24.32,.081,24.02,.052,24.85,.101,25.08,.099,25.23,.063,24.85,.065,25.76,.052,24.32,.127,24.17,.114];
const salmonDots5b = [9.65,.17,9.85,.155,10.1,.145,10.3,.165,10.5,.15,10.8,.13,11,.16,11.3,.15,11.5,.13,11.8,.15,12.1,.165,12.4,.15,12.9,.165,13.2,.135,13.4,.15,13.9,.14,14.6,.15,14.9,.14,15.3,.15,15.5,.12,15.9,.13,16.4,.13,16.6,.15,17,.14,17.4,.125,17.7,.15,18.2,.13,18.6,.15,19,.13,19.3,.15,19.8,.14,20.3,.145,20.7,.135,21,.12,21.5,.13,22,.12,22.4,.14,22.9,.14,23.3,.14,23.6,.12,24,.13,24.5,.12,25,.13,25.5,.115,9.7,.07,9.85,.1,10.1,.1,10.4,.1,10.6,.07,10.9,.075,11.4,.1,11.5,.07,11.9,.1,12.2,.08,12.5,.1,12.9,.08,13.3,.1,13.5,.08,13.9,.06,14.5,.1,14.8,.09,15.1,.07,15.4,.09,15.9,.08,16.2,.09,16.5,.07,16.8,.06,17.1,.08,17.5,.09,17.7,.06,18.1,.08,18.3,.07,18.7,.1,19,.09,19.5,.1,19.8,.07,20.1,.09,20.5,.06,20.7,.1,21.1,.09,21.5,.09,21.7,.06,22.2,.1,22.7,.1,23,.06,23.4,.07,23.7,.07,24.1,.08,24.5,.065,25,.07,25.4,.06,9.65,.23,9.9,.21,10.2,.22,10.6,.24,10.95,.21,11.3,.25,11.7,.27,12.3,.27,12.9,.265,13.3,.27,13.7,.29,14.3,.28,14.8,.24,15.2,.25,15.6,.25,16.4,.26,16.7,.28,17.2,.28,17.6,.26,18,.25,18.5,.27,19,.27,19.6,.25,20,.26,20.5,.28,21.2,.27,21.6,.27,22.4,.26,22.9,.25,23.4,.29,24,.25,24.3,.24,25,.24,25.5,.22];

const tealColor = "#00BFC4";
const salmonColor = "#F8766D";
const fontFamily = "Liberation Sans";
const panels = [
  { tM: tealMean1, tH: tealHi1, tL: tealLo1, sM: salmonMean1, sH: salmonHi1, sL: salmonLo1, tD: [...tealDots1, ...tealDots1b], sD: salmonDots1 },
  { tM: tealMean2, tH: tealHi2, tL: tealLo2, sM: salmonMean2, sH: salmonHi2, sL: salmonLo2, tD: [...tealDots2, ...tealDots2b], sD: salmonDots2 },
  { tM: tealMean3, tH: tealHi3, tL: tealLo3, sM: salmonMean3, sH: salmonHi3, sL: salmonLo3, tD: [...tealDots3, ...tealDots3b], sD: [...salmonDots3, ...salmonDots3b] },
  { tM: tealMean4, tH: tealHi4, tL: tealLo4, sM: salmonMean4, sH: salmonHi4, sL: salmonLo4, tD: [...tealDots4, ...tealDots4b], sD: [...salmonDots4, ...salmonDots4b] },
  { tM: tealMean5, tH: tealHi5, tL: tealLo5, sM: salmonMean5, sH: salmonHi5, sL: salmonLo5, tD: [...tealDots5, ...tealDots5b], sD: [...salmonDots5, ...salmonDots5b] },
];

const PANEL_LEFT = 100;
const PANEL_STEP = 429.3;
const PANEL_W = 411;
const PANEL_TOP = 172;
const PANEL_H = 519.7;
const DODGE = 0.225;

const toPairs = (flat: number[]) => {
  const out: number[][] = [];
  for (let i = 0; i + 1 < flat.length; i += 2) out.push([flat[i], flat[i + 1]]);
  return out;
};

const renderBar = (_: any, api: any) => {
  const a = api.coord([api.value(0), api.value(1)]);
  const b = api.coord([api.value(0), api.value(2)]);
  return {
    type: "line",
    shape: { x1: a[0], y1: a[1], x2: b[0], y2: b[1] },
    style: { stroke: "#000", lineWidth: 3 },
  };
};

function buildOption() {
  const grid: any[] = [];
  const xAxis: any[] = [];
  const yAxis: any[] = [];
  const series: any[] = [];
  const graphic: any[] = [];

  panels.forEach((p, i) => {
    const left = PANEL_LEFT + PANEL_STEP * i;
    grid.push({ left, top: PANEL_TOP, width: PANEL_W, height: PANEL_H, containLabel: false });
    xAxis.push({
      type: "value", gridIndex: i, min: 8.736, max: 27.358,
      splitLine: { show: false },
      axisLine: { show: true, onZero: false, lineStyle: { color: "#000", width: 2.5 } },
      axisTick: { show: true, length: 10, customValues: xTicks, lineStyle: { color: "#000", width: 2.5 } },
      axisLabel: { show: true, customValues: xTicks, color: "#000", fontSize: 48, fontFamily, margin: 13 },
    });
    yAxis.push({
      type: "value", gridIndex: i, min: -0.03046, max: 0.6291, show: i === 0,
      splitLine: { show: false },
      axisLine: { show: true, onZero: false, lineStyle: { color: "#000", width: 2.5 } },
      axisTick: { show: true, length: 9, customValues: yTicks, lineStyle: { color: "#000", width: 2.5 } },
      axisLabel: {
        show: true, customValues: yTicks, color: "#000", fontSize: 48, fontFamily, margin: 10,
        formatter: (v: number) => v.toFixed(1),
      },
    });

    const base = { xAxisIndex: i, yAxisIndex: i, silent: true };
    series.push(
      { ...base, type: "scatter", z: 1, data: toPairs(p.tD), symbolSize: 4.6, itemStyle: { color: tealColor, opacity: 0.33 } },
      { ...base, type: "scatter", z: 1, data: toPairs(p.sD), symbolSize: 4.6, itemStyle: { color: salmonColor, opacity: 0.33 } },
      {
        ...base, type: "line", z: 2, showSymbol: false,
        data: ages.map((a, k) => [a - DODGE, p.sM[k]]),
        lineStyle: { color: salmonColor, width: 11.5, cap: "butt", join: "miter" },
      },
      {
        ...base, type: "line", z: 2, showSymbol: false,
        data: ages.map((a, k) => [a + DODGE, p.tM[k]]),
        lineStyle: { color: tealColor, width: 11.5, cap: "butt", join: "miter" },
      },
      {
        ...base, type: "custom", z: 3, renderItem: renderBar, encode: { x: 0, y: [1, 2] },
        data: ages.map((a, k) => [a - DODGE, p.sL[k], p.sH[k]]),
      },
      {
        ...base, type: "custom", z: 3, renderItem: renderBar, encode: { x: 0, y: [1, 2] },
        data: ages.map((a, k) => [a + DODGE, p.tL[k], p.tH[k]]),
      },
      {
        ...base, type: "scatter", z: 4, symbol: "circle", symbolSize: 16,
        data: ages.map((a, k) => [a - DODGE, p.sM[k]]), itemStyle: { color: "#000", opacity: 1 },
      },
      {
        ...base, type: "scatter", z: 4, symbol: "triangle", symbolSize: [21, 18], symbolOffset: [0, -2.5],
        data: ages.map((a, k) => [a + DODGE, p.tM[k]]), itemStyle: { color: "#000", opacity: 1 },
      },
    );

    const cx = left - 1 + 411 / 2;
    graphic.push(
      {
        type: "rect", z: 10, shape: { x: left + 2, y: 17, width: 405, height: 152 },
        style: { fill: "#fff", stroke: "#000", lineWidth: 6 },
      },
      {
        type: "text", z: 11, x: cx - 5.5, y: 71,
        style: { text: panelLabels[i], fill: "#000", font: `39.6px "${fontFamily}"`, textAlign: "center", textVerticalAlign: "middle" },
      },
      {
        type: "text", z: 11, x: cx, y: 115,
        style: { text: "i know", fill: "#000", font: `39.6px "${fontFamily}"`, textAlign: "center", textVerticalAlign: "middle" },
      },
    );
  });

  graphic.push({
    type: "text", z: 11, x: 1163, y: 781,
    style: { text: "Age", fill: "#000", font: `51px "${fontFamily}"`, textAlign: "center", textVerticalAlign: "middle" },
  });

  return { animation: false, backgroundColor: "#fff", grid, xAxis, yAxis, series, graphic };
}

export default function App() {
  const ref = useRef<HTMLDivElement>(null);
  useEffect(() => {
    const chart = echarts.init(ref.current!, undefined, { renderer: "svg" });
    chart.setOption(buildOption() as any);
    return () => chart.dispose();
  }, []);
  return <div ref={ref} style={{ position: "fixed", left: 0, top: 0, width: 2222, height: 810 }} />;
}
